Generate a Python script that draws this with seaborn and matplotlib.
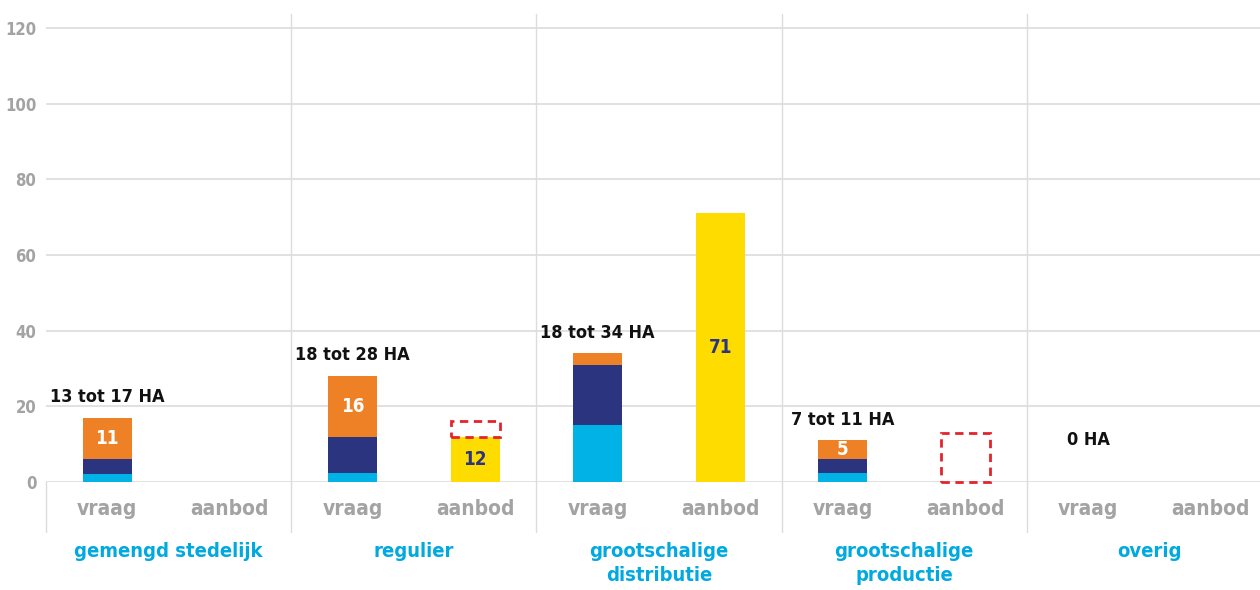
import matplotlib
matplotlib.use("Agg")
from matplotlib import pyplot as plt
from matplotlib import transforms
import pandas as pd
import seaborn as sns

groups = ["gemengd stedelijk", "regulier", "grootschalige\ndistributie",
          "grootschalige\nproductie", "overig"]
kinds = ["vraag", "aanbod"]

# vraag in HA, drie lagen van onder naar boven
vraag_licht = [2, 2.5, 15, 2.5, 0]
vraag_donker = [4, 9.5, 16, 3.5, 0]
vraag_oranje = [11, 16, 3, 5, 0]
vraag_range = ["13 tot 17 HA", "18 tot 28 HA", "18 tot 34 HA", "7 tot 11 HA", "0 HA"]

# aanbod in HA, plus onzeker aanbod (rode stippellijn)
aanbod = [0, 12, 71, 0, 0]
aanbod_onzeker = [0, 4, 0, 13, 0]

y_ticks = [0, 20, 40, 60, 80, 100, 120]

LIGHT = "#00B2E6"
NAVY = "#2B347F"
ORANGE = "#EE8126"
YELLOW = "#FFDC00"
RED = "#E3242B"
GREY = "#A3A3A3"
CYAN = "#00A9E0"
GRID = "#DCDCDC"

slots = [f"{g}|{k}" for g in groups for k in kinds]
vraag_slots = [f"{g}|vraag" for g in groups]
aanbod_slots = [f"{g}|aanbod" for g in groups]

df_v = pd.DataFrame({"slot": vraag_slots, "licht": vraag_licht,
                     "donker": vraag_donker, "oranje": vraag_oranje})
df_v["l1"] = df_v["licht"]
df_v["l2"] = df_v["l1"] + df_v["donker"]
df_v["l3"] = df_v["l2"] + df_v["oranje"]
df_a = pd.DataFrame({"slot": aanbod_slots, "aanbod": aanbod, "onzeker": aanbod_onzeker})

sns.set_theme(style="white")
plt.rcParams["font.family"] = ["DejaVu Sans"]
plt.rcParams["font.stretch"] = "condensed"
plt.rcParams["font.weight"] = "bold"

fig = plt.figure(figsize=(12.6, 5.9), dpi=100)
# the plot runs a bit past the right edge of the picture
ax = fig.add_axes([46 / 1260, 108 / 590, 1226 / 1260, 468 / 590])

# stacked bars: draw cumulative totals, largest first
for col, c in [("l3", ORANGE), ("l2", NAVY), ("l1", LIGHT)]:
    sns.barplot(data=df_v, x="slot", y=col, order=slots, color=c, width=0.4,
                saturation=1, errorbar=None, linewidth=0, ax=ax)
sns.barplot(data=df_a, x="slot", y="aanbod", order=slots, color=YELLOW, width=0.4,
            saturation=1, errorbar=None, linewidth=0, ax=ax)

# onzeker aanbod as dashed boxes
for _, row in df_a.iterrows():
    if row["onzeker"] > 0:
        ax.bar(slots.index(row["slot"]), row["onzeker"], bottom=row["aanbod"], width=0.4,
               fill=False, edgecolor=RED, linestyle=(0, (3, 2)), linewidth=2,
               zorder=3, clip_on=False)

ax.set_xlim(-0.5, len(slots) - 0.5)
ax.set_ylim(0, 123.7)
ax.set_xlabel("")
ax.set_ylabel("")
for s in ax.spines.values():
    s.set_visible(False)

ax.set_yticks(y_ticks)
ax.yaxis.grid(True, color=GRID, lw=1.2)
ax.xaxis.grid(False)
ax.set_axisbelow(True)
ax.tick_params(axis="y", length=0, pad=7, labelsize=12, labelcolor=GREY)
ax.set_xticks(range(len(slots)))
ax.set_xticklabels([k for g in groups for k in kinds])
ax.tick_params(axis="x", length=0, pad=12, labelsize=15, labelcolor=GREY)

# separators between the groups, running below the axis
low = -13.2 / 123.7
for i in range(1, len(groups)):
    ax.axvline(2 * i - 0.5, ymin=low, ymax=1, color=GRID, lw=1, clip_on=False, zorder=0)
ax.axvline(-0.5, ymin=low, ymax=0, color=GRID, lw=1, clip_on=False, zorder=0)

trans = transforms.blended_transform_factory(ax.transData, ax.transAxes)
for i, g in enumerate(groups):
    oranje = vraag_oranje[i]
    if oranje >= 5:
        ax.text(2 * i, df_v["l2"][i] + oranje / 2, str(oranje), color="white",
                ha="center", va="center", fontsize=13.5)
    if aanbod[i] > 0:
        ax.text(2 * i + 1, aanbod[i] / 2, str(aanbod[i]), color=NAVY,
                ha="center", va="center", fontsize=13.5)
    total = df_v["l3"][i]
    ax.annotate(vraag_range[i], (2 * i, total), xytext=(0, 15 if total > 0 else 30),
                textcoords="offset points", ha="center", va="center",
                fontsize=13, color="#111111")
    ax.text(2 * i + 0.5, -60 / 468, g, transform=trans, ha="center", va="top",
            color=CYAN, fontsize=14.5, linespacing=1.35)

fig.savefig("out.png", dpi=100)
